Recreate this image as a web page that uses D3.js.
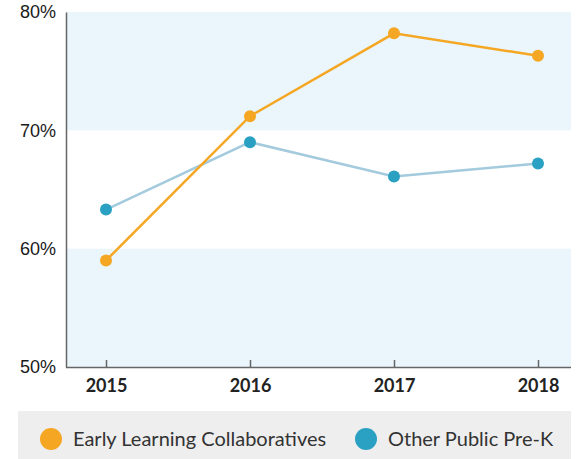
<!DOCTYPE html>
<html>
<head>
<meta charset="utf-8">
<script src="https://cdn.jsdelivr.net/npm/d3@7"></script>
<style>
  body { margin: 0; background: #fff; }
  svg { display: block; }
  .x-axis text { font-family: Lato, "Open Sans", sans-serif; font-weight: 700; font-size: 18px; fill: #222; }
  .y-axis text { font-family: "Liberation Sans", Arial, sans-serif; font-size: 18px; fill: #1a1a1a; }
  .legend text { font-family: Lato, "Open Sans", sans-serif; font-size: 20px; fill: #333; }
</style>
</head>
<body>
<div id="container"></div>
<script>
const years = ['2015', '2016', '2017', '2018'];
const elc = [59, 71.2, 78.2, 76.3];
const otherPreK = [63.3, 69, 66.1, 67.2];
const yTicks = [50, 60, 70, 80];
const bands = [[50, 60], [70, 80]];
const seriesNames = ['Early Learning Collaboratives', 'Other Public Pre-K'];

const W = 579, H = 459;
const plot = { left: 66, right: 571, top: 12, bottom: 367 };

const svg = d3.select('#container').append('svg')
  .attr('width', W).attr('height', H);

const x = d3.scalePoint().domain(years).range([106, 538]);
const y = d3.scaleLinear().domain([50, 80]).range([plot.bottom, plot.top]);

// shaded bands
svg.append('g').selectAll('rect')
  .data(bands).enter().append('rect')
  .attr('x', plot.left)
  .attr('width', plot.right - plot.left)
  .attr('y', d => y(d[1]))
  .attr('height', d => y(d[0]) - y(d[1]))
  .attr('fill', '#eaf6fc');

// y axis
const yAxis = svg.append('g').attr('class', 'y-axis')
  .attr('transform', 'translate(' + plot.left + ',0)')
  .call(d3.axisLeft(y).tickValues(yTicks).tickSize(0).tickPadding(10)
    .tickFormat(d => d + '%'));
yAxis.select('.domain').attr('stroke', '#666').attr('stroke-width', 1.5);

// x axis
const xAxis = svg.append('g').attr('class', 'x-axis')
  .attr('transform', 'translate(0,' + plot.bottom + ')')
  .call(d3.axisBottom(x).tickSizeInner(-7).tickSizeOuter(0).tickPadding(12));
xAxis.select('.domain')
  .attr('d', 'M' + plot.left + ',0.5H' + plot.right)
  .attr('stroke', '#666').attr('stroke-width', 1.5);
xAxis.selectAll('.tick line').attr('stroke', '#666').attr('stroke-width', 1.5);

const line = d3.line().x((d, i) => x(years[i])).y(d => y(d));

const series = [
  { values: otherPreK, line: '#a3cadd', dot: '#2aa1c3' },
  { values: elc, line: '#f5a623', dot: '#f5a623' },
];

series.forEach(s => {
  svg.append('path')
    .datum(s.values)
    .attr('d', line)
    .attr('fill', 'none')
    .attr('stroke', s.line)
    .attr('stroke-width', 2.5);
  svg.append('g').selectAll('circle')
    .data(s.values).enter().append('circle')
    .attr('cx', (d, i) => x(years[i]))
    .attr('cy', d => y(d))
    .attr('r', 6)
    .attr('fill', s.dot);
});

// legend
const legend = svg.append('g').attr('class', 'legend');
legend.append('rect')
  .attr('x', 18).attr('y', 411)
  .attr('width', 553).attr('height', 60)
  .attr('fill', '#eeeeee');

const legendItems = [
  { name: seriesNames[0], color: '#f5a623', cx: 51 },
  { name: seriesNames[1], color: '#2aa1c3', cx: 366 },
];
legendItems.forEach(it => {
  legend.append('circle')
    .attr('cx', it.cx).attr('cy', 439).attr('r', 11)
    .attr('fill', it.color);
  legend.append('text')
    .attr('x', it.cx + 22).attr('y', 439)
    .attr('dy', '0.35em')
    .text(it.name);
});
</script>
</body>
</html>
